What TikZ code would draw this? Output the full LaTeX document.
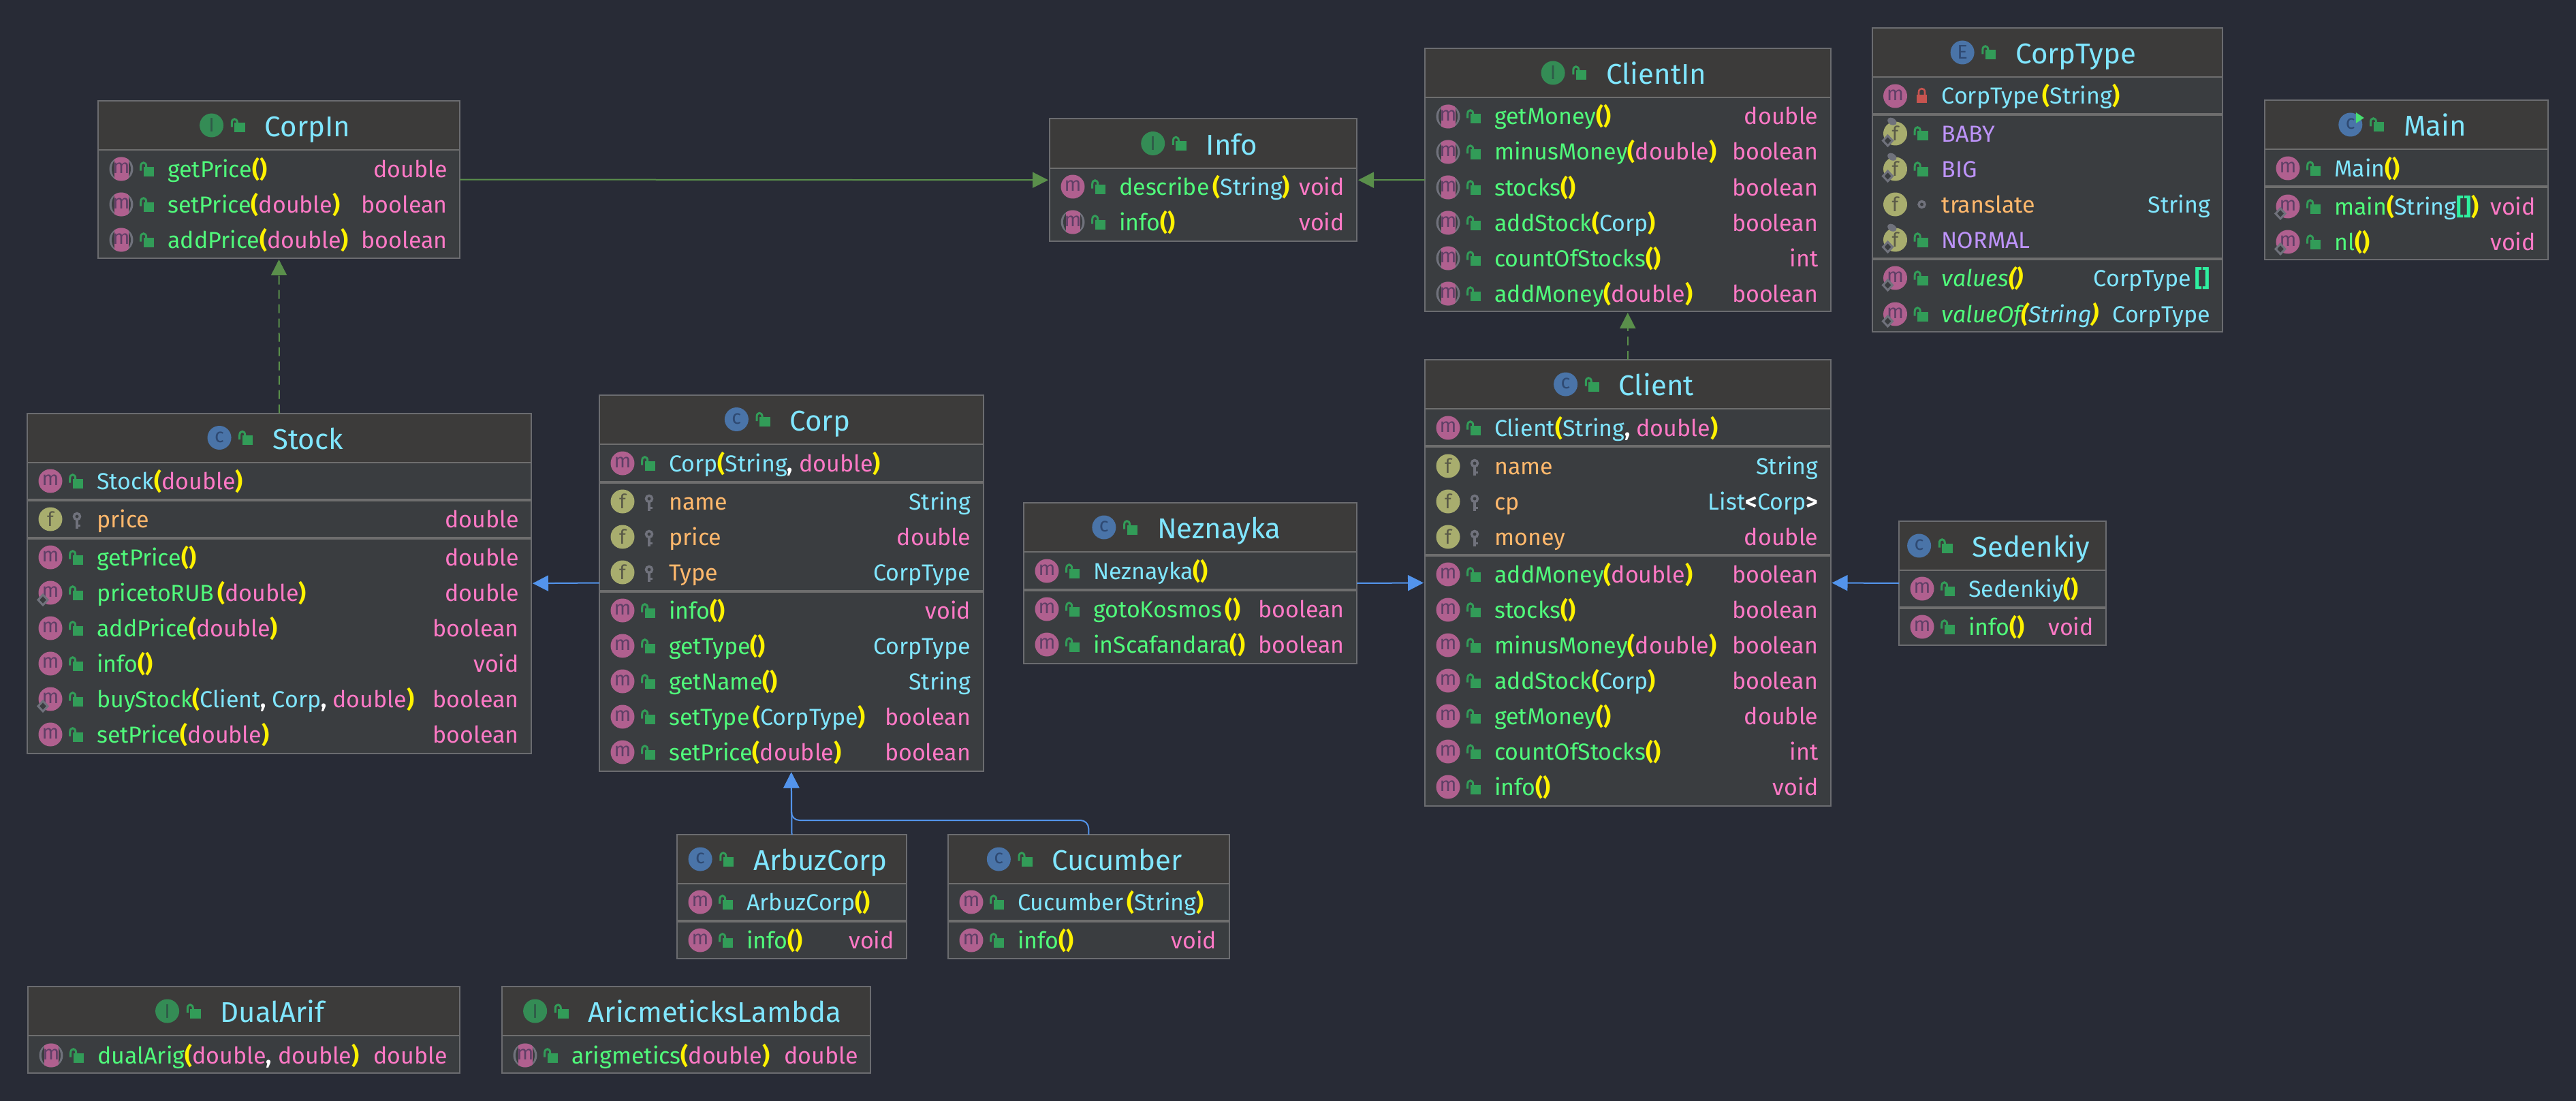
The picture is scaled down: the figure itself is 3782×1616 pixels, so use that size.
\documentclass[tikz,border=0pt]{standalone}
\usepackage{fontspec}
\setmainfont{Fira Sans}
\usetikzlibrary{arrows.meta}

\definecolor{bgcol}{HTML}{282B36}
\definecolor{headcol}{HTML}{3C3B3A}
\definecolor{bodycol}{HTML}{3A3D40}
\definecolor{edgecol}{HTML}{6B6C70}
\definecolor{sepcol}{HTML}{6E6E6E}
\definecolor{cyancol}{HTML}{80E6FF}
\definecolor{greencol}{HTML}{50FA7B}
\definecolor{pinkcol}{HTML}{FF79C6}
\definecolor{orangecol}{HTML}{FFB86C}
\definecolor{purplecol}{HTML}{BD93F9}
\definecolor{tealcol}{HTML}{2EF0A0}
\definecolor{methcol}{HTML}{B0608F}
\definecolor{methink}{HTML}{5F3F66}
\definecolor{fieldcol}{HTML}{A8AD6E}
\definecolor{fieldink}{HTML}{5A5A48}
\definecolor{bluecol}{HTML}{4A74A8}
\definecolor{blueink}{HTML}{2F4A73}
\definecolor{ifacecol}{HTML}{348C55}
\definecolor{ifaceink}{HTML}{2F5A48}
\definecolor{lockcol}{HTML}{329C58}
\definecolor{graycol}{HTML}{70727C}
\definecolor{redcol}{HTML}{C75450}
\definecolor{extgreen}{HTML}{5A8F4B}
\definecolor{extblue}{HTML}{5394EC}

\tikzset{
  classbox/.style={draw=edgecol, line width=2pt, fill=bodycol, inner sep=0pt, outer sep=0pt},
  classtitle/.style={text=cyancol, inner sep=0pt, font=\fontsize{42}{48}\selectfont},
  rowtext/.style={inner sep=0pt, font=\fontsize{34}{40}\selectfont},
  iconletter/.style={inner sep=0pt, font=\fontsize{29}{32}\selectfont},
  hdrline/.style={draw=sepcol, line width=2pt},
  sepline/.style={draw=sepcol, line width=4pt},
  extline/.style={draw=extblue, line width=2pt, shorten >=2pt, -{Triangle[length=23pt,width=23pt]}},
  ifaceline/.style={draw=extgreen, line width=2pt, shorten >=2pt, -{Triangle[length=23pt,width=23pt]}},
  implline/.style={ifaceline, dash pattern=on 13pt off 8pt},
  % class level icons
  classpic/.pic={code={%
      \fill [bluecol] (0,0) circle (17.5);
      \node [iconletter, text=blueink] (let) at (0,-1) {c};
  }},
  mainpic/.pic={code={%
      \fill [bluecol] (0,0) circle (17.5);
      \node [iconletter, text=blueink] (let) at (0,-1) {c};
      \fill [greencol!70!lockcol] (8,-18) -- (20,-10) -- (8,-2) -- cycle;
  }},
  ifacepic/.pic={code={%
      \fill [ifacecol] (0,0) circle (17.5);
      \node [iconletter, text=ifaceink] (let) at (0,0) {I};
  }},
  enumpic/.pic={code={%
      \fill [bluecol] (0,0) circle (17.5);
      \node [iconletter, text=blueink] (let) at (0,0) {E};
  }},
  % member icons
  methpic/.pic={code={%
      \fill [methcol] (0,0) circle (17.5);
      \node [iconletter, text=methink] (let) at (0,-1) {m};
  }},
  absmpic/.pic={code={%
      \fill [graycol] (0,0) circle (17.5);
      \fill [bodycol] (0,0) ellipse (14 and 17.5);
      \begin{scope}
        \clip (0,0) circle (17.5);
        \fill [methcol] (-10.5,-18) rectangle (10.5,18);
      \end{scope}
      \node [iconletter, text=methink] (let) at (0,-1) {m};
  }},
  statmpic/.pic={code={%
      \fill [methcol] (0,0) circle (17.5);
      \node [iconletter, text=methink] (let) at (0,-1) {m};
      \draw [graycol, line width=3pt, fill=bodycol] (-11,3) -- (-4,10.5) -- (-11,18) -- (-18,10.5) -- cycle;
  }},
  fieldpic/.pic={code={%
      \fill [fieldcol] (0,0) circle (17.5);
      \node [iconletter, text=fieldink] (let) at (0,0) {f};
  }},
  enumfpic/.pic={code={%
      \fill [fieldcol] (0,0) circle (17.5);
      \node [iconletter, text=fieldink] (let) at (0,0) {f};
      \fill [graycol, rotate=-30] (-13,-13) ellipse (7 and 5);
      \draw [graycol, line width=3pt, fill=bodycol] (-11,3) -- (-4,10.5) -- (-11,18) -- (-18,10.5) -- cycle;
  }},
  % visibility icons
  pubpic/.pic={code={%
      \fill [lockcol] (1.7,-3.5) rectangle (17.2,10.5);
      \draw [lockcol, line width=3pt] (-2.3,2.5) -- (-2.3,-4)
        .. controls (-2.3,-11) and (5.7,-11) .. (5.7,-4) -- (5.7,-3);
  }},
  keypic/.pic={code={%
      \draw [graycol, line width=3.5pt] (8,-4) circle (4.5);
      \fill [graycol] (6,0) rectangle (10,14);
      \fill [graycol] (10,8) rectangle (13,11);
  }},
  privpic/.pic={code={%
      \fill [redcol] (0.5,-2) rectangle (15.5,10);
      \draw [redcol, line width=2.6pt] (3.5,-2) -- (3.5,-6)
        .. controls (3.5,-12.5) and (12.5,-12.5) .. (12.5,-6) -- (12.5,-2);
  }},
  packpic/.pic={code={%
      \draw [graycol, line width=3.5pt] (8,0) circle (4.5);
  }},
}

% text colours
\newcommand{\mName}[1]{\textcolor{greencol}{#1}}
\newcommand{\cName}[1]{\textcolor{cyancol}{#1}}
\newcommand{\tName}[1]{\textcolor{pinkcol}{#1}}
\newcommand{\fName}[1]{\textcolor{orangecol}{#1}}
\newcommand{\eName}[1]{\textcolor{purplecol}{#1}}
\newcommand{\pTok}[1]{\textcolor{yellow}{\bfseries #1}}
\newcommand{\bTok}[1]{\textcolor{tealcol}{\bfseries #1}}
\newcommand{\wTok}[1]{\textcolor{white}{\bfseries #1}}

% box with its header; x1, y1, x2, y2 are pixels of the picture
\newcommand{\umlbox}[7]{%
  \def\boxid{#1}\def\boxl{#2}\def\boxr{#4}%
  \node [classbox, minimum width={(#4-#2)*1pt}, minimum height={(#5-#3)*1pt}] (#1)
    at ({(#2+#4)/2},{(#3+#5)/2}) {};
  \fill [headcol] ({#2+1},{#3+1}) rectangle ({#4-1},{#3+72});
  \draw [hdrline] ({#2+1},{#3+72}) -- ({#4-1},{#3+72});
  \node [classtitle, anchor=base] (#1-title) at ({(#2+#4)/2+42},{#3+52.5}) {#7};
  \path (#1-title.base west) ++(-78,-16.5) pic {#6} ++(32,0) pic {pubpic};
}
\newcommand{\umlsep}[1]{\draw [sepline] ({\boxl+1},#1) -- ({\boxr-1},#1);}
\newcommand{\umlrow}[5]{%
  \path ({\boxl+34},#1) pic {#2};
  \path ({\boxl+65},#1) pic {#3};
  \node [rowtext, anchor=base west] (\boxid-#1) at ({\boxl+102},{#1+12}) {#4};
  \if\relax\detokenize{#5}\relax\else
    \node [rowtext, anchor=base east] (\boxid-#1r) at ({\boxr-18},{#1+12}) {#5};
  \fi
}

\begin{document}
\begin{tikzpicture}[x=1pt, y=-1pt]
    \fill [bgcol] (0,0) rectangle (3782,1616);
    \useasboundingbox (0,0) rectangle (3782,1616);

    % interfaces on top
    \umlbox{corpin}{144}{148}{675}{379}{ifacepic}{CorpIn}
    \umlrow{248}{absmpic}{pubpic}{\mName{getPrice}\pTok{()}}{\tName{double}}
    \umlrow{300}{absmpic}{pubpic}{\mName{setPrice}\pTok{(}\tName{double}\pTok{)}}{\tName{boolean}}
    \umlrow{352}{absmpic}{pubpic}{\mName{addPrice}\pTok{(}\tName{double}\pTok{)}}{\tName{boolean}}

    \umlbox{info}{1541}{174.5}{1992}{354}{ifacepic}{Info}
    \umlrow{274}{methpic}{pubpic}{\mName{describe}\kern5pt\pTok{(}\cName{String}\pTok{)}}{\tName{void}}
    \umlrow{326}{absmpic}{pubpic}{\mName{info}\pTok{()}}{\tName{void}}

    \umlbox{clientin}{2092}{71}{2687.5}{457}{ifacepic}{ClientIn}
    \umlrow{171}{absmpic}{pubpic}{\mName{getMoney}\pTok{()}}{\tName{double}}
    \umlrow{223}{absmpic}{pubpic}{\mName{minusMoney}\pTok{(}\tName{double}\pTok{)}}{\tName{boolean}}
    \umlrow{275}{absmpic}{pubpic}{\mName{stocks}\pTok{()}}{\tName{boolean}}
    \umlrow{327}{absmpic}{pubpic}{\mName{addStock}\pTok{(}\cName{Corp}\pTok{)}}{\tName{boolean}}
    \umlrow{379}{absmpic}{pubpic}{\mName{countOfStocks}\pTok{()}}{\tName{int}}
    \umlrow{431}{absmpic}{pubpic}{\mName{addMoney}\pTok{(}\tName{double}\pTok{)}}{\tName{boolean}}

    \umlbox{corptype}{2748.5}{41}{3263}{487}{enumpic}{CorpType}
    \umlrow{141}{methpic}{privpic}{\cName{CorpType}\kern5pt\pTok{(}\cName{String}\pTok{)}}{}
    \umlsep{168}
    \umlrow{196}{enumfpic}{pubpic}{\eName{BABY}}{}
    \umlrow{248}{enumfpic}{pubpic}{\eName{BIG}}{}
    \umlrow{300}{fieldpic}{packpic}{\fName{translate}}{\cName{String}}
    \umlrow{352}{enumfpic}{pubpic}{\eName{NORMAL}}{}
    \umlsep{380}
    \umlrow{408}{statmpic}{pubpic}{\itshape\mName{values}\pTok{()}}{\cName{CorpType}\,\bTok{[]}}
    \umlrow{461}{statmpic}{pubpic}{\itshape\mName{valueOf}\pTok{(}\cName{String}\pTok{)}}{\cName{CorpType}}

    \umlbox{main}{3325}{147}{3741}{381}{mainpic}{Main}
    \umlrow{247}{methpic}{pubpic}{\cName{Main}\pTok{()}}{}
    \umlsep{274}
    \umlrow{303}{statmpic}{pubpic}{\mName{main}\pTok{(}\cName{String}\bTok{[]}\pTok{)}}{\tName{void}}
    \umlrow{355}{statmpic}{pubpic}{\mName{nl}\pTok{()}}{\tName{void}}

    % middle row of classes
    \umlbox{stock}{40}{606.5}{780}{1106}{classpic}{Stock}
    \umlrow{706}{methpic}{pubpic}{\cName{Stock}\pTok{(}\tName{double}\pTok{)}}{}
    \umlsep{734}
    \umlrow{762}{fieldpic}{keypic}{\fName{price}}{\tName{double}}
    \umlsep{790}
    \umlrow{818}{methpic}{pubpic}{\mName{getPrice}\pTok{()}}{\tName{double}}
    \umlrow{870}{statmpic}{pubpic}{\mName{pricetoRUB}\kern5pt\pTok{(}\tName{double}\pTok{)}}{\tName{double}}
    \umlrow{922}{methpic}{pubpic}{\mName{addPrice}\pTok{(}\tName{double}\pTok{)}}{\tName{boolean}}
    \umlrow{974}{methpic}{pubpic}{\mName{info}\pTok{()}}{\tName{void}}
    \umlrow{1026}{statmpic}{pubpic}{\mName{buyStock}\pTok{(}\cName{Client}\wTok{,} \cName{Corp}\wTok{,} \tName{double}\pTok{)}}{\tName{boolean}}
    \umlrow{1078}{methpic}{pubpic}{\mName{setPrice}\pTok{(}\tName{double}\pTok{)}}{\tName{boolean}}

    \umlbox{corp}{880}{579.5}{1443.5}{1131.5}{classpic}{Corp}
    \umlrow{680}{methpic}{pubpic}{\cName{Corp}\pTok{(}\cName{String}\wTok{,} \tName{double}\pTok{)}}{}
    \umlsep{708}
    \umlrow{736}{fieldpic}{keypic}{\fName{name}}{\cName{String}}
    \umlrow{788}{fieldpic}{keypic}{\fName{price}}{\tName{double}}
    \umlrow{840}{fieldpic}{keypic}{\fName{Type}}{\cName{CorpType}}
    \umlsep{868}
    \umlrow{896}{methpic}{pubpic}{\mName{info}\pTok{()}}{\tName{void}}
    \umlrow{948}{methpic}{pubpic}{\mName{getType}\pTok{()}}{\cName{CorpType}}
    \umlrow{1000}{methpic}{pubpic}{\mName{getName}\pTok{()}}{\cName{String}}
    \umlrow{1052}{methpic}{pubpic}{\mName{setType}\kern5pt\pTok{(}\cName{CorpType}\pTok{)}}{\tName{boolean}}
    \umlrow{1104}{methpic}{pubpic}{\mName{setPrice}\pTok{(}\tName{double}\pTok{)}}{\tName{boolean}}

    \umlbox{neznayka}{1503}{738}{1992}{974}{classpic}{Neznayka}
    \umlrow{838}{methpic}{pubpic}{\cName{Neznayka}\pTok{()}}{}
    \umlsep{866}
    \umlrow{894}{methpic}{pubpic}{\mName{gotoKosmos}\kern5pt\pTok{()}}{\tName{boolean}}
    \umlrow{946}{methpic}{pubpic}{\mName{inScafandara}\pTok{()}}{\tName{boolean}}

    \umlbox{client}{2092}{528}{2687.5}{1183}{classpic}{Client}
    \umlrow{628}{methpic}{pubpic}{\cName{Client}\pTok{(}\cName{String}\wTok{,} \tName{double}\pTok{)}}{}
    \umlsep{655}
    \umlrow{684}{fieldpic}{keypic}{\fName{name}}{\cName{String}}
    \umlrow{736}{fieldpic}{keypic}{\fName{cp}}{\cName{List}\wTok{<}\cName{Corp}\wTok{>}}
    \umlrow{788}{fieldpic}{keypic}{\fName{money}}{\tName{double}}
    \umlsep{815}
    \umlrow{843}{methpic}{pubpic}{\mName{addMoney}\pTok{(}\tName{double}\pTok{)}}{\tName{boolean}}
    \umlrow{895}{methpic}{pubpic}{\mName{stocks}\pTok{()}}{\tName{boolean}}
    \umlrow{947}{methpic}{pubpic}{\mName{minusMoney}\pTok{(}\tName{double}\pTok{)}}{\tName{boolean}}
    \umlrow{999}{methpic}{pubpic}{\mName{addStock}\pTok{(}\cName{Corp}\pTok{)}}{\tName{boolean}}
    \umlrow{1051}{methpic}{pubpic}{\mName{getMoney}\pTok{()}}{\tName{double}}
    \umlrow{1103}{methpic}{pubpic}{\mName{countOfStocks}\pTok{()}}{\tName{int}}
    \umlrow{1155}{methpic}{pubpic}{\mName{info}\pTok{()}}{\tName{void}}

    \umlbox{sedenkiy}{2788}{765}{3092}{947}{classpic}{Sedenkiy}
    \umlrow{864}{methpic}{pubpic}{\cName{Sedenkiy}\pTok{()}}{}
    \umlsep{892}
    \umlrow{920}{methpic}{pubpic}{\mName{info}\pTok{()}}{\tName{void}}

    % subclasses of Corp
    \umlbox{arbuzcorp}{994}{1225}{1331}{1407}{classpic}{ArbuzCorp}
    \umlrow{1324}{methpic}{pubpic}{\cName{ArbuzCorp}\pTok{()}}{}
    \umlsep{1352}
    \umlrow{1380}{methpic}{pubpic}{\mName{info}\pTok{()}}{\tName{void}}

    \umlbox{cucumber}{1392}{1225}{1804.5}{1407}{classpic}{Cucumber}
    \umlrow{1324}{methpic}{pubpic}{\cName{Cucumber}\kern5pt\pTok{(}\cName{String}\pTok{)}}{}
    \umlsep{1352}
    \umlrow{1380}{methpic}{pubpic}{\mName{info}\pTok{()}}{\tName{void}}

    % lone interfaces
    \umlbox{dualarif}{41}{1448}{675}{1575}{ifacepic}{DualArif}
    \umlrow{1549}{absmpic}{pubpic}{\mName{dualArig}\pTok{(}\tName{double}\wTok{,} \tName{double}\pTok{)}}{\tName{double}}

    \umlbox{aricmetickslambda}{737}{1448}{1278}{1575}{ifacepic}{AricmeticksLambda}
    \umlrow{1549}{absmpic}{pubpic}{\mName{arigmetics}\pTok{(}\tName{double}\pTok{)}}{\tName{double}}

    % connectors
    \draw [ifaceline] (corpin.east) -- (info.west);
    \draw [ifaceline] (clientin.west) -- (info.east);
    \draw [implline] (stock.north) -- (corpin.south);
    \draw [implline] (client.north) -- (clientin.south);
    \draw [extline] (corp.west) -- (stock.east);
    \draw [extline] (neznayka.east) -- (client.west);
    \draw [extline] (sedenkiy.west) -- (client.east);
    \draw [extline] (arbuzcorp.north) -- (corp.south);
    \coordinate (bend) at (1300,1204);
    \draw [extline, rounded corners=12pt] (cucumber.north) -- (cucumber.north |- bend)
      -- (corp.south |- bend) -- (corp.south);
\end{tikzpicture}
\end{document}
